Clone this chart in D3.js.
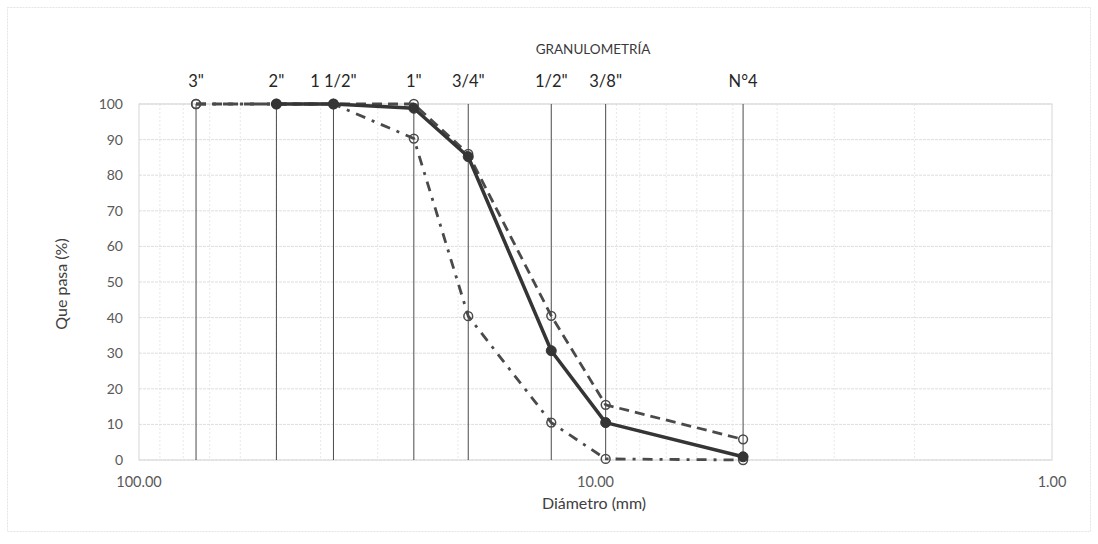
<!DOCTYPE html>
<html>
<head>
<meta charset="utf-8">
<script src="https://cdn.jsdelivr.net/npm/d3@7"></script>
<style>
  html, body { margin: 0; padding: 0; background: #fff; }
  svg { display: block; font-family: Lato, "Open Sans", "Liberation Sans", sans-serif; }
</style>
</head>
<body>
<svg id="chart" width="1098" height="544"></svg>
<script>
// Sieve openings (mm) and their names
const sieveNames = ['3"', '2"', '1 1/2"', '1"', '3/4"', '1/2"', '3/8"', 'N°4'];
const sieveSizes = [75, 50, 37.5, 25, 19, 12.5, 9.5, 4.75];

// Percent passing: sample curve (starts at 2") and the two limit curves
const sampleSizes = [50, 37.5, 25, 19, 12.5, 9.5, 4.75];
const samplePassing = [100, 100, 98.8, 85.2, 30.7, 10.5, 0.9];
const upperPassing = [100, 100, 100, 100, 86, 40.5, 15.5, 5.8];
const lowerPassing = [100, 100, 100, 90.3, 40.4, 10.5, 0.3, 0];

const yTicks = [0, 10, 20, 30, 40, 50, 60, 70, 80, 90, 100];
const xTicks = [100, 10, 1];

const svg = d3.select("#chart");
const plotL = 139, plotR = 1052, plotT = 104, plotB = 460;

const x = d3.scaleLog().domain([100, 1]).range([plotL, plotR]);
const y = d3.scaleLinear().domain([0, 100]).range([plotB, plotT]);

// outer chart border
svg.append("rect").attr("x", 7.5).attr("y", 7.5).attr("width", 1083).attr("height", 524)
  .attr("fill", "none").attr("stroke", "#e4e4e4").attr("stroke-dasharray", "2,1");

// minor vertical gridlines (2..9 per decade)
const minor = [];
[1, 10].forEach(d => { for (let k = 2; k <= 9; k++) minor.push(d * k); });
svg.append("g").selectAll("line").data(minor).join("line")
  .attr("x1", d => x(d)).attr("x2", d => x(d)).attr("y1", plotT).attr("y2", plotB)
  .attr("stroke", "#e8e8e8").attr("stroke-dasharray", "2,2");

// horizontal gridlines
svg.append("g").selectAll("line").data(yTicks).join("line")
  .attr("x1", plotL).attr("x2", plotR).attr("y1", d => y(d)).attr("y2", d => y(d))
  .attr("stroke", "#dedede").attr("stroke-dasharray", "3,1");

// plot frame
svg.append("rect").attr("x", plotL).attr("y", plotT).attr("width", plotR - plotL).attr("height", plotB - plotT)
  .attr("fill", "none").attr("stroke", "#d6d6d6");

// sieve reference lines
svg.append("g").selectAll("line").data(sieveSizes).join("line")
  .attr("x1", d => x(d)).attr("x2", d => x(d)).attr("y1", y(100)).attr("y2", y(0))
  .attr("stroke", "#4a4a4a").attr("stroke-width", 1);

// sieve names above the plot
svg.append("g").selectAll("text").data(sieveNames).join("text")
  .attr("x", (d, i) => x(sieveSizes[i])).attr("y", 87)
  .attr("text-anchor", "middle").attr("font-size", 16.5).attr("fill", "#262626")
  .text(d => d);

// title
svg.append("text").attr("x", 593).attr("y", 54).attr("text-anchor", "middle")
  .attr("font-size", 13.5).attr("fill", "#3a3a3a").text("GRANULOMETRÍA");

// y axis labels
svg.append("g").selectAll("text").data(yTicks).join("text")
  .attr("x", 123).attr("y", d => y(d) + 5).attr("text-anchor", "end")
  .attr("font-size", 14).attr("fill", "#595959").text(d => d);

// x axis labels
svg.append("g").selectAll("text").data(xTicks).join("text")
  .attr("x", d => x(d)).attr("y", 487).attr("text-anchor", "middle")
  .attr("font-size", 14.5).attr("fill", "#595959").text(d => d.toFixed(2));

// axis titles
svg.append("text").attr("x", 594).attr("y", 509).attr("text-anchor", "middle")
  .attr("font-size", 16).attr("fill", "#404040").text("Diámetro (mm)");
svg.append("text").attr("transform", "translate(67,284) rotate(-90)").attr("text-anchor", "middle")
  .attr("font-size", 16).attr("fill", "#404040").text("Que pasa (%)");

const line = d3.line().x(d => x(d[0])).y(d => y(d[1]));

function series(sizes, vals, opts) {
  const pts = sizes.map((s, i) => [s, vals[i]]);
  const g = svg.append("g");
  g.append("path").datum(pts).attr("d", line).attr("fill", "none")
    .attr("stroke", opts.color).attr("stroke-width", opts.width)
    .attr("stroke-dasharray", opts.dash || null).attr("stroke-linejoin", "round");
  g.selectAll("circle").data(pts).join("circle")
    .attr("cx", d => x(d[0])).attr("cy", d => y(d[1])).attr("r", opts.r)
    .attr("fill", opts.fill).attr("stroke", opts.color).attr("stroke-width", opts.mw);
}

// lower limit (dash-dot), upper limit (dashed), sample (solid)
series(sieveSizes, lowerPassing, { color: "#4a4a4a", width: 2.8, dash: "10,7,3,7", r: 4.4, fill: "none", mw: 1.5 });
series(sieveSizes, upperPassing, { color: "#4a4a4a", width: 2.8, dash: "10,6", r: 4.4, fill: "none", mw: 1.5 });
series(sampleSizes, samplePassing, { color: "#353535", width: 3.5, r: 5, fill: "#353535", mw: 1 });
</script>
</body>
</html>
